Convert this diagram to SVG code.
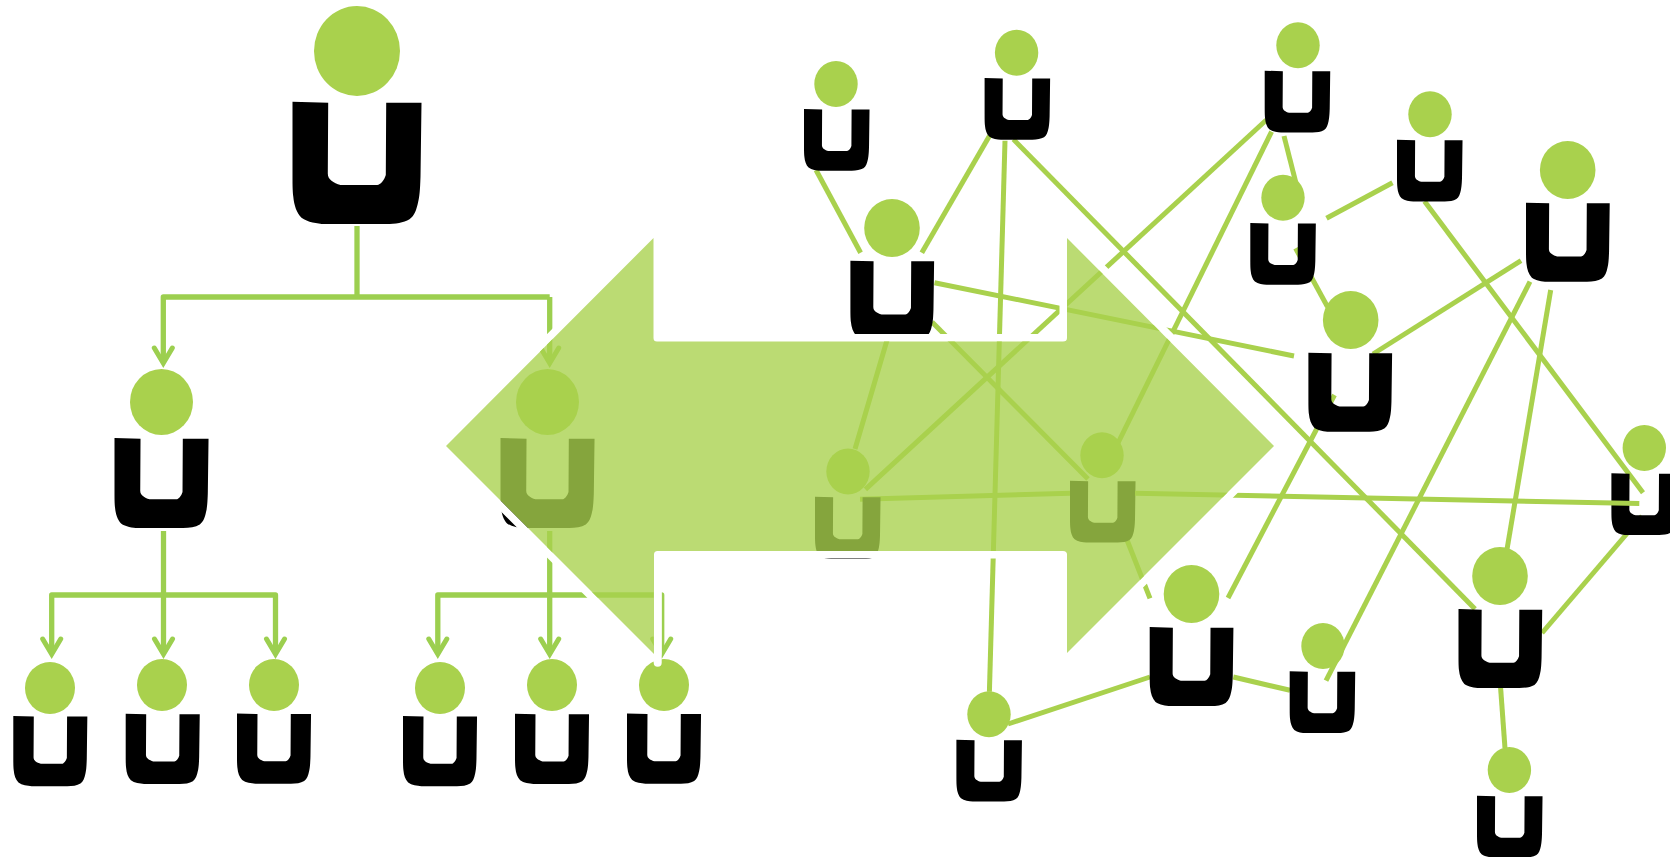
<svg xmlns="http://www.w3.org/2000/svg" width="1670" height="857" viewBox="0 0 1670 857">
<style>
.head{fill:#a9d14d}
.body{fill:#000}
.link{fill:none;stroke:#a9d14d;stroke-width:5}
.tree{fill:none;stroke:#9ccf4f;stroke-width:5.3;stroke-linejoin:round}
.arrowed{marker-end:url(#open)}
</style>
<defs>
<path id="u" d="M0,0L35.7,1L35.3,71.7C35.3,78 41,81 48,83.3L84.7,83.3C88,83 91.5,79 93.3,73.3L93.7,1L129,1L128,75C127.6,88 127,95 125.7,100C124,108 122,114 117,117.5C111,121 103,122.3 94,122.3L32,122.3C25,122 15,120.5 9,116C4,111 1.5,103 .8,95C.2,90 0,85 0,75Z"/>
<path id="shape" d="M446,446L653.5,238V338Q653.5,341.5 657,341.5H1063Q1067,341.5 1067,338V238L1274,446L1067,653V554.5Q1067,551 1063,551H657.5Q654,551 654,554.5V654Z"/>
<marker id="open" markerUnits="userSpaceOnUse" markerWidth="30" markerHeight="30" refX="20" refY="15" orient="auto" viewBox="0 0 30 30">
<path d="M6,6L21.2,15L6,24" fill="none" stroke="#9ccf4f" stroke-width="5" stroke-linecap="round" stroke-linejoin="miter"/>
</marker>
<mask id="outside" maskUnits="userSpaceOnUse" x="0" y="0" width="1670" height="857">
<rect width="1670" height="857" fill="#fff"/>
<use href="#shape" fill="#000"/>
</mask>
</defs>
<rect width="1670" height="857" fill="#fff"/>
<g id="connectors">
<path class="tree" d="M357,226V297"/>
<path class="tree arrowed" d="M549.7,297H163.3V362"/>
<path class="tree arrowed" d="M549.7,297V362"/>
<path class="tree arrowed" d="M163.5,531V653"/>
<path class="tree arrowed" d="M163.5,595H51.7V653"/>
<path class="tree arrowed" d="M163.5,595H275.5V653"/>
<path class="tree arrowed" d="M549.7,531V653"/>
<path class="tree arrowed" d="M549.7,595H437.8V653"/>
<path class="tree arrowed" d="M549.7,595H661.7V653"/>
<path class="link" d="M816,170L860.6,252.7"/>
<path class="link" d="M989.4,136L921.8,252.7"/>
<path class="link" d="M1005,140.7L989.4,691.7"/>
<path class="link" d="M1013.4,139.3L1475,609"/>
<path class="link" d="M1266.3,120L865.4,489.3"/>
<path class="link" d="M1271.6,131.7L1117,445"/>
<path class="link" d="M934.5,282.7L1294,356"/>
<path class="link" d="M1284,136L1295.6,181.7"/>
<path class="link" d="M1326.5,218.3L1392.5,182.7"/>
<path class="link" d="M1295.6,248.3L1327.5,306.7"/>
<path class="link" d="M1334.5,395L1228,598"/>
<path class="link" d="M1424.5,201.3L1643,492.7"/>
<path class="link" d="M1521,260.7L1373,354"/>
<path class="link" d="M1530,281.7L1326,680.7"/>
<path class="link" d="M1550.7,290L1507,549.3"/>
<path class="link" d="M1642,516L1542,633"/>
<path class="link" d="M860,499.3L1080,493"/>
<path class="link" d="M1127,540L1150,598.3"/>
<path class="link" d="M1008,724L1150,677"/>
<path class="link" d="M1233.3,677L1290,690.3"/>
<path class="link" d="M1500.6,687.7L1505,748.3"/>
<path class="link" d="M932,322L1088,479"/>
<path class="link" d="M890,330L855,449"/>
</g>
<g id="top"><ellipse class="head" cx="357" cy="51" rx="43" ry="45"/><use class="body" href="#u" transform="translate(292.5,101.7)"/></g>
<g id="mid-left"><ellipse class="head" cx="161.5" cy="402" rx="31.5" ry="33"/><use class="body" href="#u" transform="translate(114.5,438) scale(.729,.736)"/></g>
<g id="mid-right"><ellipse class="head" cx="547.5" cy="402" rx="31.5" ry="33"/><use class="body" href="#u" transform="translate(500.5,438) scale(.729,.736)"/></g>
<g id="leaf-1"><ellipse class="head" cx="50" cy="688" rx="25" ry="26"/><use class="body" href="#u" transform="translate(13.3,716) scale(.574)"/></g>
<g id="leaf-2"><ellipse class="head" cx="162" cy="685" rx="25" ry="26"/><use class="body" href="#u" transform="translate(125.7,713.7) scale(.574)"/></g>
<g id="leaf-3"><ellipse class="head" cx="274" cy="685" rx="25" ry="26"/><use class="body" href="#u" transform="translate(237,713.5) scale(.574)"/></g>
<g id="leaf-4"><ellipse class="head" cx="440" cy="688" rx="25" ry="26"/><use class="body" href="#u" transform="translate(403,716) scale(.574)"/></g>
<g id="leaf-5"><ellipse class="head" cx="552" cy="685" rx="25" ry="26"/><use class="body" href="#u" transform="translate(515,713.7) scale(.574)"/></g>
<g id="leaf-6"><ellipse class="head" cx="664" cy="685" rx="25" ry="26"/><use class="body" href="#u" transform="translate(627,713.5) scale(.574)"/></g>
<g id="net-1"><ellipse class="head" cx="836" cy="84" rx="21.7" ry="23"/><use class="body" href="#u" transform="translate(804,109) scale(.508,.505)"/></g>
<g id="net-2"><ellipse class="head" cx="1016.6" cy="52.7" rx="21.7" ry="23"/><use class="body" href="#u" transform="translate(984.6,78) scale(.508,.505)"/></g>
<g id="net-3"><ellipse class="head" cx="1298" cy="45.3" rx="21.7" ry="23"/><use class="body" href="#u" transform="translate(1264.7,70.7) scale(.508,.505)"/></g>
<g id="net-4"><ellipse class="head" cx="1430" cy="114.3" rx="21.7" ry="23"/><use class="body" href="#u" transform="translate(1397,139.7) scale(.508,.505)"/></g>
<g id="net-5"><ellipse class="head" cx="1567.7" cy="170" rx="27.8" ry="29"/><use class="body" href="#u" transform="translate(1526,202.7) scale(.649,.646)"/></g>
<g id="net-6"><ellipse class="head" cx="892" cy="228" rx="27.8" ry="29"/><use class="body" href="#u" transform="translate(850.4,260.7) scale(.649,.646)"/></g>
<g id="net-7"><ellipse class="head" cx="1283" cy="197.7" rx="21.7" ry="23"/><use class="body" href="#u" transform="translate(1250.3,223) scale(.508,.505)"/></g>
<g id="net-8"><ellipse class="head" cx="1350.7" cy="320" rx="27.8" ry="29"/><use class="body" href="#u" transform="translate(1308.4,352.7) scale(.649,.646)"/></g>
<g id="net-9"><ellipse class="head" cx="1644.3" cy="448" rx="21.7" ry="23"/><use class="body" href="#u" transform="translate(1611.4,473.3) scale(.508,.505)"/></g>
<g id="net-10"><ellipse class="head" cx="848" cy="471.5" rx="21.7" ry="23"/><use class="body" href="#u" transform="translate(815,496.7) scale(.508,.51)"/></g>
<g id="net-11"><ellipse class="head" cx="1102" cy="455.3" rx="21.7" ry="23"/><use class="body" href="#u" transform="translate(1070,480.7) scale(.508,.505)"/></g>
<g id="net-12"><ellipse class="head" cx="1191.5" cy="594" rx="27.8" ry="29"/><use class="body" href="#u" transform="translate(1149.7,627) scale(.649,.646)"/></g>
<g id="net-13"><ellipse class="head" cx="1323" cy="646" rx="21.7" ry="23"/><use class="body" href="#u" transform="translate(1289.7,671.3) scale(.508,.505)"/></g>
<g id="net-14"><ellipse class="head" cx="1500" cy="576" rx="27.8" ry="29"/><use class="body" href="#u" transform="translate(1458.5,609) scale(.649,.646)"/></g>
<g id="net-15"><ellipse class="head" cx="989" cy="714.3" rx="21.7" ry="23"/><use class="body" href="#u" transform="translate(956.4,739.7) scale(.508,.505)"/></g>
<g id="net-16"><ellipse class="head" cx="1509.4" cy="770" rx="21.7" ry="23"/><use class="body" href="#u" transform="translate(1477,795.7) scale(.508,.505)"/></g>
<g id="connectors-over">
<path class="link" d="M1135,493.3L1639.3,503.5"/>
</g>
<g id="big-arrow">
<use href="#shape" fill="none" stroke="#fff" stroke-width="15" stroke-linejoin="round" mask="url(#outside)"/>
<path d="M657.7,551V662.7" fill="none" stroke="#fff" stroke-width="8" stroke-linecap="round"/>
<use href="#shape" fill="#a9d14d" fill-opacity=".79"/>
</g>
</svg>
